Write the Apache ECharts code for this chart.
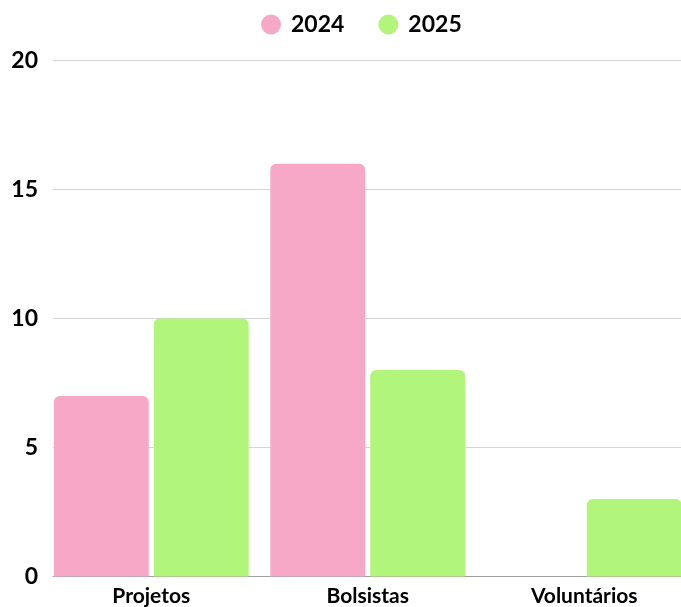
<!DOCTYPE html>
<html>
<head>
<meta charset="utf-8">
<script src="https://cdn.jsdelivr.net/npm/echarts@6/dist/echarts.min.js"></script>
<style>
html,body{margin:0;padding:0;background:#fff;}
#chart{width:681px;height:607px;}
</style>
</head>
<body>
<div id="chart"></div>
<script>
const categories = ['Projetos', 'Bolsistas', 'Voluntários'];
const seriesNames = ['2024', '2025'];
const values2024 = [7, 16, 0];
const values2025 = [10, 8, 3];
const yTicks = { min: 0, max: 20, interval: 5 };

const FONT = 'Lato, "Noto Sans", sans-serif';
const chart = echarts.init(document.getElementById('chart'), null, { renderer: 'canvas' });
const option = {
  backgroundColor: '#ffffff',
  animation: false,
  legend: {
    data: seriesNames,
    left: 261,
    top: 13,
    padding: 0,
    icon: 'circle',
    itemWidth: 20,
    itemHeight: 20,
    itemGap: 34,
    textStyle: { fontFamily: FONT, fontWeight: 'bold', fontSize: 23, color: '#000', padding: [0, 0, 0, 5] }
  },
  grid: [
    { left: 43, width: 649.5, top: 60.5, height: 516, containLabel: false, outerBoundsMode: 'none' },
    { left: 53, right: 0, top: 60.5, height: 516, containLabel: false, outerBoundsMode: 'none' }
  ],
  xAxis: [
    {
      type: 'category', gridIndex: 0, data: categories,
      axisLine: { show: false }, axisTick: { show: false },
      axisLabel: { margin: 9, fontFamily: FONT, fontWeight: 'bold', fontSize: 21, color: '#000' }
    },
    {
      type: 'category', gridIndex: 1, data: categories,
      axisLine: { show: true, lineStyle: { color: '#a0a0a0', width: 1 } },
      axisTick: { show: false }, axisLabel: { show: false }
    }
  ],
  yAxis: [
    {
      type: 'value', gridIndex: 0, min: yTicks.min, max: yTicks.max, interval: yTicks.interval,
      show: false, splitLine: { show: false }
    },
    {
      type: 'value', gridIndex: 1, min: yTicks.min, max: yTicks.max, interval: yTicks.interval,
      axisLine: { show: false }, axisTick: { show: false },
      axisLabel: { margin: 15, fontFamily: FONT, fontWeight: 'bold', fontSize: 23, color: '#000' },
      splitLine: { show: true, lineStyle: { color: '#d4d4d4', width: 1 } }
    }
  ],
  series: [
    {
      name: seriesNames[0], type: 'bar', xAxisIndex: 0, yAxisIndex: 0, data: values2024,
      barCategoryGap: '10%', barGap: '5.3%',
      itemStyle: { color: '#f7a8c6', borderRadius: [6, 6, 0, 0] }
    },
    {
      name: seriesNames[1], type: 'bar', xAxisIndex: 0, yAxisIndex: 0, data: values2025,
      barCategoryGap: '10%', barGap: '5.3%',
      itemStyle: { color: '#b2f57b', borderRadius: [6, 6, 0, 0] }
    }
  ]
};
chart.setOption(option);
</script>
</body>
</html>
